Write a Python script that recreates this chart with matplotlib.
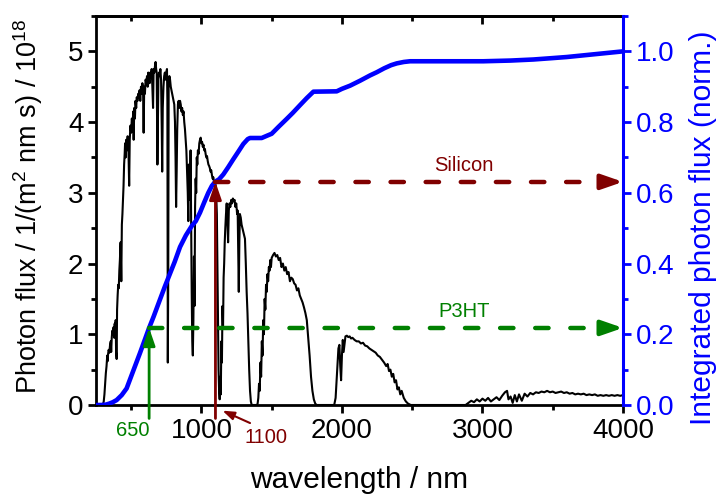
import numpy as np
import matplotlib
matplotlib.use('Agg')
import matplotlib.pyplot as plt
from matplotlib.ticker import MultipleLocator

plt.rcParams['font.family'] = ['Liberation Sans', 'DejaVu Sans']
plt.rcParams['mathtext.fontset'] = 'custom'
plt.rcParams['mathtext.rm'] = 'Liberation Sans'
plt.rcParams['mathtext.default'] = 'regular'

# AM1.5 photon flux (1e18 / (m^2 nm s))
wl_spec = [280, 295, 300, 305, 310, 315, 320, 325, 330, 333, 336, 340, 345, 350, 355, 358,
           362, 366, 370, 375, 380, 383, 387, 390, 393, 397, 400, 404, 408, 412, 416, 420,
           425, 430, 434, 438, 442, 446, 450, 454, 457, 461, 465, 470, 475, 480, 486, 490,
           495, 500, 505, 510, 515, 518, 522, 527, 531, 536, 540, 545, 550, 555, 560, 565,
           570, 575, 580, 585, 589, 593, 598, 603, 608, 613, 618, 622, 627, 632, 636, 641,
           646, 651, 656, 660, 665, 670, 674, 678, 682, 687, 690, 694, 698, 703, 708, 713,
           718, 721, 725, 730, 735, 740, 745, 750, 755, 758, 761, 764, 767, 772, 777, 782,
           787, 792, 797, 802, 807, 812, 816, 820, 824, 828, 833, 838, 843, 848, 853, 858,
           863, 868, 873, 878, 883, 888, 893, 898, 903, 907, 911, 915, 919, 923, 927, 931,
           935, 939, 943, 947, 951, 955, 959, 963, 967, 971, 975, 980, 985, 990, 995, 1000,
           1005, 1010, 1015, 1020, 1025, 1030, 1035, 1040, 1045, 1050, 1055, 1060, 1065, 1070,
           1075, 1080, 1085, 1090, 1095, 1100, 1105, 1110, 1114, 1118, 1122, 1126, 1130, 1134,
           1138, 1142, 1146, 1150, 1154, 1158, 1162, 1166, 1170, 1175, 1180, 1185, 1190, 1195,
           1200, 1206, 1212, 1218, 1224, 1230, 1236, 1242, 1248, 1254, 1258, 1262, 1266, 1270,
           1274, 1280, 1286, 1292, 1298, 1304, 1310, 1316, 1322, 1328, 1334, 1340, 1346, 1352,
           1358, 1395, 1400, 1405, 1410, 1415, 1420, 1425, 1430, 1435, 1440, 1445, 1450, 1455,
           1460, 1465, 1470, 1475, 1480, 1485, 1490, 1495, 1500, 1510, 1520, 1530, 1540, 1550,
           1560, 1570, 1580, 1590, 1600, 1610, 1620, 1630, 1640, 1650, 1660, 1670, 1680, 1690,
           1700, 1710, 1720, 1730, 1740, 1750, 1760, 1770, 1780, 1790, 1800, 1810, 1820, 1945,
           1955, 1965, 1975, 1982, 1988, 1994, 2000, 2006, 2012, 2018, 2025, 2035, 2045, 2055,
           2065, 2075, 2090, 2105, 2120, 2135, 2150, 2165, 2180, 2195, 2210, 2225, 2240, 2255,
           2270, 2285, 2300, 2315, 2325, 2335, 2345, 2355, 2365, 2375, 2385, 2395, 2405, 2415,
           2425, 2440, 2455, 2470, 2490, 2880, 2900, 2920, 2940, 2960, 2980, 3000, 3020, 3040,
           3060, 3080, 3100, 3120, 3140, 3160, 3175, 3185, 3200, 3215, 3230, 3245, 3260, 3280,
           3300, 3320, 3340, 3360, 3380, 3400, 3420, 3440, 3460, 3480, 3500, 3520, 3540, 3560,
           3580, 3600, 3620, 3640, 3660, 3680, 3700, 3720, 3740, 3760, 3780, 3800, 3820, 3840,
           3860, 3880, 3900, 3920, 3940, 3960, 3980, 4000]
flux_spec = [0, 0, 0.01, 0.05, 0.15, 0.3, 0.45, 0.55, 0.7, 0.62, 0.72, 0.78, 0.74, 0.85, 0.9, 0.75,
             0.95, 1.05, 1.0, 1.1, 0.95, 1.15, 1.0, 1.2, 0.75, 0.65, 1.35, 1.55, 1.7, 1.65, 1.9, 2.05,
             2.3, 1.75, 2.55, 2.7, 2.9, 3.1, 3.4, 3.55, 3.7, 3.5, 3.75, 3.6, 3.8, 3.7, 3.1, 3.75,
             3.95, 3.85, 4.05, 3.95, 4.15, 3.75, 4.2, 4.05, 4.3, 4.2, 4.35, 4.3, 4.4, 4.35, 4.45, 4.3,
             4.5, 4.4, 4.55, 4.45, 3.85, 4.5, 4.4, 4.6, 4.55, 4.65, 4.5, 4.7, 4.6, 4.55, 4.7, 4.65,
             4.75, 4.5, 4.2, 4.75, 4.7, 4.8, 4.85, 4.75, 4.7, 3.4, 3.9, 4.6, 4.7, 4.65, 4.75, 4.6,
             3.9, 3.3, 4.2, 4.5, 4.65, 4.7, 4.6, 4.7, 4.75, 4.3, 0.6, 1.8, 4.5, 4.65, 4.6, 4.5,
             4.45, 4.4, 4.35, 4.3, 4.25, 4.0, 3.5, 2.8, 3.3, 3.9, 4.25, 4.3, 4.2, 4.3, 4.25, 4.15,
             4.2, 4.1, 4.15, 4.0, 3.9, 3.75, 3.6, 3.3, 3.0, 2.6, 3.4, 3.3, 2.9, 3.6, 2.5, 1.6,
             0.9, 0.7, 1.2, 2.1, 1.4, 2.8, 3.2, 3.0, 3.5, 3.4, 3.6, 3.55, 3.7, 3.75, 3.78, 3.7,
             3.72, 3.65, 3.68, 3.6, 3.62, 3.55, 3.5, 3.52, 3.45, 3.4, 3.38, 3.35, 3.3, 3.32,
             3.25, 3.2, 3.22, 3.15, 3.1, 3.12, 3.0, 2.7, 2.0, 1.2, 0.5, 0.2, 0.08, 0.4,
             0.15, 0.9, 0.6, 1.4, 1.1, 1.8, 2.0, 2.3, 2.5, 2.7, 2.85, 2.6, 2.3, 2.75,
             2.85, 2.8, 2.9, 2.85, 2.92, 2.88, 2.9, 2.8, 2.85, 2.7, 2.75, 2.2, 1.6, 2.3,
             2.7, 2.65, 2.55, 2.5, 2.45, 2.4, 2.35, 2.0, 1.6, 1.3, 0.9, 0.5, 0.2, 0.05,
             0, 0, 0.02, 0.1, 0.3, 0.2, 0.6, 0.4, 0.9, 0.7, 1.2, 1.0, 1.5, 1.35,
             1.7, 1.6, 1.85, 1.75, 1.95, 1.9, 2.05, 1.95, 2.08, 2.12, 2.15, 2.1, 2.12, 2.05,
             2.08, 1.95, 2.0, 1.9, 1.95, 1.85, 1.88, 1.75, 1.8, 1.78, 1.72, 1.7, 1.62, 1.65,
             1.55, 1.5, 1.45, 1.38, 1.3, 1.2, 0.95, 0.7, 0.4, 0.2, 0.08, 0.02, 0, 0,
             0.1, 0.45, 0.8, 0.85, 0.55, 0.35, 0.7, 0.92, 0.75, 0.85, 0.97, 0.98, 0.96, 0.97,
             0.94, 0.95, 0.92, 0.9, 0.9, 0.87, 0.88, 0.84, 0.83, 0.8, 0.78, 0.76, 0.74, 0.7,
             0.68, 0.64, 0.6, 0.55, 0.58, 0.48, 0.5, 0.4, 0.44, 0.32, 0.35, 0.22, 0.25, 0.15,
             0.2, 0.1, 0.05, 0.02, 0, 0, 0.03, 0.06, 0.04, 0.08, 0.05, 0.09, 0.06, 0.1,
             0.05, 0.08, 0.11, 0.07, 0.13, 0.18, 0.2, 0.08, 0.12, 0.03, 0.14, 0.05, 0.15, 0.06,
             0.16, 0.12, 0.17, 0.15, 0.18, 0.17, 0.19, 0.18, 0.2, 0.18, 0.19, 0.17, 0.18, 0.19,
             0.17, 0.18, 0.16, 0.17, 0.15, 0.16, 0.15, 0.16, 0.14, 0.15, 0.14, 0.15, 0.13, 0.14,
             0.13, 0.14, 0.13, 0.14, 0.13, 0.14, 0.13, 0.14]

# integrated photon flux (normalised)
wl_int = [250, 290, 320, 345, 370, 397, 433, 468, 504, 563, 628, 660, 705, 740,
          777, 810, 848, 890, 931, 960, 990, 1020, 1049, 1075, 1100, 1125, 1156, 1190, 1227,
          1262, 1298, 1330, 1346, 1429, 1470, 1500, 1550, 1607, 1650, 1702, 1750, 1797, 1963,
          2000, 2058, 2129, 2200, 2248, 2300, 2350, 2390, 2440, 2485, 3006, 3200, 3362, 3500,
          3600, 3700, 3850, 4000]
int_flux = [0, 0, 0.001, 0.004, 0.008, 0.014, 0.028, 0.047, 0.085, 0.147, 0.218,
            0.25, 0.298, 0.335, 0.372, 0.405, 0.447, 0.48, 0.506, 0.52, 0.544, 0.573, 0.6,
            0.62, 0.632, 0.638, 0.652, 0.672, 0.695, 0.716, 0.738, 0.752, 0.755, 0.755, 0.762,
            0.767, 0.787, 0.809, 0.826, 0.848, 0.868, 0.886, 0.887, 0.894, 0.903, 0.917, 0.932,
            0.941, 0.952, 0.961, 0.966, 0.970, 0.972, 0.972, 0.974, 0.977, 0.981, 0.984, 0.988,
            0.994, 1.0]

# band edges and the integrated flux they reach
edge_names = ['P3HT', 'Silicon']
edge_labels = ['650', '1100']
edge_wl = [628, 1100]
edge_level = [0.218, 0.631]
edge_colors = ['#008000', '#800000']

blue = '#0000ff'

fig = plt.figure(figsize=(7.17, 4.96), dpi=100)
ax = fig.add_axes([96/717, 1-405/496, 527/717, 389/496])
ax.plot(wl_spec, flux_spec, color='k', lw=1.5, zorder=2)
ax.set_xlim(250, 4000)
ax.set_ylim(0, 5.5)
ax.xaxis.set_major_locator(MultipleLocator(1000))
ax.xaxis.set_minor_locator(MultipleLocator(500))
ax.yaxis.set_major_locator(MultipleLocator(1))
ax.yaxis.set_minor_locator(MultipleLocator(0.5))
ax.tick_params(which='major', direction='out', length=6, width=2, labelsize=20, pad=3)
ax.tick_params(which='minor', direction='out', length=3.5, width=2)
ax.tick_params(top=False, right=False)
for s in ax.spines.values():
    s.set_linewidth(2)
ax.spines['right'].set_visible(False)

top = ax.secondary_xaxis('top')
top.xaxis.set_major_locator(MultipleLocator(1000))
top.xaxis.set_minor_locator(MultipleLocator(500))
top.tick_params(which='major', direction='in', length=6, width=2, labeltop=False)
top.tick_params(which='minor', direction='in', length=3.5, width=2)
top.spines['top'].set_linewidth(2)

ax.set_xlabel('wavelength / nm', fontsize=21.5)
ax.xaxis.set_label_coords(0.5, -0.157)
ax.set_ylabel(r'Photon flux / 1/(m$^2$ nm s) / 10$^{18}$', fontsize=19.5)
ax.yaxis.label.set_va('center')
ax.yaxis.set_label_coords(-0.129, 0.51)

ax2 = ax.twinx()
ax2.plot(wl_int, int_flux, color=blue, lw=3.3, zorder=3)
ax2.set_ylim(0, 1.1)
ax2.yaxis.set_major_locator(MultipleLocator(0.2))
ax2.yaxis.set_minor_locator(MultipleLocator(0.1))
ax2.yaxis.set_major_formatter(plt.FormatStrFormatter('%.1f'))
ax2.tick_params(which='major', direction='out', length=6, width=2, labelsize=20,
                colors=blue, pad=3)
ax2.tick_params(which='minor', direction='out', length=3.5, width=2, colors=blue)
for k in ['left', 'top', 'bottom']:
    ax2.spines[k].set_visible(False)
ax2.spines['right'].set_color(blue)
ax2.spines['right'].set_linewidth(2.2)
ax2.set_ylabel('Integrated photon flux (norm.)', fontsize=21.5, color=blue)
ax2.yaxis.label.set_va('center')
ax2.yaxis.set_label_coords(1.152, 0.456)

for name, lab, x, lev, c in zip(edge_names, edge_labels, edge_wl, edge_level, edge_colors):
    # vertical arrow from below the axis up to the integrated curve
    ax2.annotate('', xy=(x, lev), xytext=(x, -0.038), annotation_clip=False,
                 arrowprops=dict(arrowstyle='-|>,head_length=1.05,head_width=0.36',
                                 mutation_scale=10, color=c, lw=2, shrinkA=0, shrinkB=0))
    # dashed horizontal to the right axis
    ax2.plot([x, 3870], [lev, lev], color=c, lw=3.2, dashes=(3.0, 4.9),
             dash_capstyle='round', zorder=4)
    ax2.annotate('', xy=(4000, lev), xytext=(3860, lev), annotation_clip=False,
                 arrowprops=dict(arrowstyle='-|>,head_length=1.3,head_width=0.45',
                                 mutation_scale=10, color=c, lw=3, shrinkA=0, shrinkB=0))
    ax2.text(2870, lev + 0.045, name, color=c, fontsize=14.5, ha='center', va='center')

ax2.text(515, -0.073, edge_labels[0], color=edge_colors[0], fontsize=14.5,
         ha='center', va='center', clip_on=False)
ax2.text(1459, -0.091, edge_labels[1], color=edge_colors[1], fontsize=14.5,
         ha='center', va='center', clip_on=False)
ax2.annotate('', xy=(1150, -0.016), xytext=(1346, -0.051), annotation_clip=False,
             arrowprops=dict(arrowstyle='-|>,head_length=0.7,head_width=0.25',
                             mutation_scale=10, color=edge_colors[1], lw=1.5,
                             shrinkA=0, shrinkB=0))

fig.savefig('out.png', dpi=100)
